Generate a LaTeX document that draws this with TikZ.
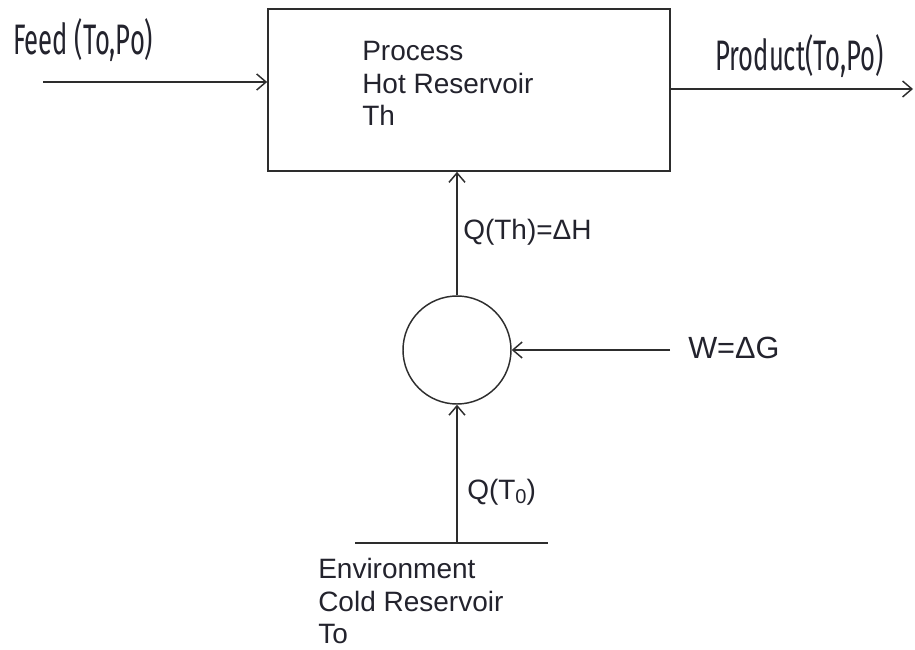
\documentclass[tikz,border=0pt]{standalone}
\usepackage{fontspec}
\setmainfont{Liberation Sans}
\newfontfamily\agency[FakeStretch=0.6]{Fira Sans}
\usetikzlibrary{arrows.meta}
\definecolor{lineK}{RGB}{45,45,45}
\definecolor{textK}{RGB}{35,35,45}

\begin{document}
\begin{tikzpicture}[x=0.75pt,y=-0.75pt,
  flow/.style={draw=lineK,line width=1.3pt,-{Straight Barb[length=7pt,width=12pt,line width=1.1pt]}},
  lbl/.style={text=textK,font=\fontsize{21}{24.5}\selectfont,inner sep=0pt},
  tag/.style={text=textK,font=\agency\fontsize{32}{34}\selectfont,inner sep=0pt}]
\useasboundingbox (0,0) rectangle (915,650);
\node[draw=lineK,line width=1.3pt,minimum width=301.5pt,minimum height=121.5pt] (proc) at (469,90) {};
\node[lbl,align=left,anchor=north west] (proctxt) at (362,41) {Process\\Hot Reservoir\\Th};
\node[draw=lineK,line width=1.1pt,circle,minimum size=81pt] (eng) at (457,350) {};
\coordinate (feedin) at (43,82); \coordinate (prodout) at (913,89); \coordinate (wsrc) at (670,350);
\coordinate (gl) at (355,543); \coordinate (gr) at (548,543);
\draw[flow] (feedin) -- (feedin -| proc.west);
\draw[flow] (proc.east |- prodout) -- (prodout);
\draw[flow] (eng.north) -- (eng.north |- proc.south);
\draw[flow] (wsrc) -- (eng.east);
\draw[lineK,line width=1.3pt] (gl) -- (gr);
\draw[flow] (eng.south |- gl) -- (eng.south);
\node[tag,anchor=base west] (feedlbl) at (13,54) {Feed (To,Po)};
\node[tag,anchor=base west] (prodlbl) at (715,70) {Product(To,Po)};
\node[lbl,anchor=west] (qh) at (463,232) {Q(Th)=ΔH};
\node[lbl,anchor=west,font=\fontsize{23}{26}\selectfont] (wg) at (688,348) {W=ΔG};
\node[lbl,anchor=west] (q0) at (467,492) {Q(T\raisebox{-3pt}{\fontsize{15}{15}\selectfont 0})};
\node[lbl,align=left,anchor=north west] (envtxt) at (318,558) {Environment\\Cold Reservoir\\To};
\end{tikzpicture}
\end{document}
